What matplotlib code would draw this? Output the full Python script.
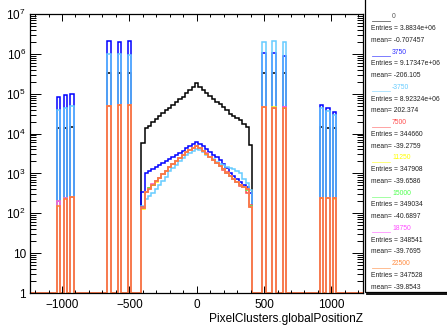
import numpy as np
import matplotlib
matplotlib.use("Agg")
import matplotlib.pyplot as plt
from matplotlib.patches import Rectangle
from matplotlib.lines import Line2D
from matplotlib.ticker import FixedLocator, FixedFormatter, MultipleLocator, LogLocator, NullFormatter

plt.rcParams["font.family"] = ["Liberation Sans Narrow", "Liberation Sans", "DejaVu Sans"]
plt.rcParams["mathtext.fontset"] = "custom"
plt.rcParams["mathtext.rm"] = "Liberation Sans Narrow"

# -----------------------------------------------------------
# Histogram definition (ROOT TH1, 99 bins of 25 mm)
# -----------------------------------------------------------
bin_width = 25.0
z_low, z_high = -1237.5, 1237.5

barrel_z = list(range(-400, 401, 25))
disk_z = [-1025, -975, -925, -650, -575, -500, 500, 575, 650, 925, 975, 1025]

series_names = ["0", "3750", "-3750", "7500", "11250", "15000", "18750", "22500"]
series_colors = ["#000000", "#0000ff", "#66ccff", "#ff4d4d", "#ffff00", "#4dff4d", "#ff4dff", "#ff7f2a"]
label_colors = ["#555555", "#3333ff", "#66ccff", "#ff4d4d", "#ffff00", "#4dff4d", "#ff4dff", "#ff8c40"]
entries = ["3.8834e+06", "9.17347e+06", "8.92324e+06", "344660", "347908", "349034", "348541", "347528"]
means = ["-0.707457", "-206.105", "202.374", "-39.2759", "-39.6586", "-40.6897", "-39.7695", "-39.8543"]

# barrel bins, z = -400 ... 400
barrel_0 = [5750, 13490, 15850, 19050, 23440, 27540, 32360, 38020, 44670, 52480, 61660, 72440,
            85110, 102300, 123000, 147900, 182000, 151400, 125900, 104700, 87100, 74130, 63100,
            53700, 45710, 38900, 31620, 27540, 23990, 21380, 17780, 14450, 5130]
barrel_3750 = [347, 1000, 1148, 1318, 1479, 1660, 1862, 2089, 2344, 2630, 2951, 3311, 3715, 4266,
               4786, 5370, 6026, 5495, 4786, 4074, 3467, 2951, 2512, 2138, 1738, 1349, 1047, 851,
               708, 603, 525, 447, 316]
barrel_m3750 = [148, 224, 269, 331, 417, 525, 661, 832, 1122, 1349, 1660, 1995, 2399, 2818, 3236,
                3631, 4074, 3802, 3388, 2951, 2570, 2239, 1950, 1738, 1585, 1445, 1349, 1259, 1148,
                1047, 708, 562, 380]
barrel_7500 = [140, 340, 420, 520, 640, 770, 960, 1160, 1460, 1720, 2100, 2440, 2900, 3370, 3900,
               4340, 4850, 4380, 3700, 3180, 2610, 2200, 1800, 1530, 1250, 1060, 860, 730, 600,
               495, 450, 330, 160]
barrel_11250 = [130, 350, 410, 530, 620, 780, 950, 1180, 1430, 1750, 2080, 2470, 2870, 3400, 3880,
                4380, 4880, 4350, 3720, 3150, 2640, 2180, 1830, 1500, 1270, 1040, 880, 720, 610,
                505, 460, 400, 145]
barrel_15000 = [138, 345, 425, 515, 635, 770, 960, 1170, 1450, 1730, 2090, 2450, 2890, 3380, 3900,
                4360, 4900, 4370, 3710, 3170, 2620, 2190, 1810, 1520, 1260, 1050, 865, 728, 598,
                500, 455, 395, 150]
barrel_18750 = [132, 348, 415, 528, 628, 775, 952, 1172, 1440, 1742, 2085, 2460, 2880, 3390, 3885,
                4370, 4890, 4360, 3705, 3165, 2625, 2185, 1815, 1510, 1255, 1045, 868, 722, 605,
                498, 452, 398, 143]
barrel_22500 = [135, 347, 417, 525, 631, 776, 955, 1175, 1445, 1738, 2089, 2455, 2884, 3388, 3890,
                4365, 4898, 4365, 3715, 3162, 2630, 2188, 1820, 1514, 1259, 1047, 871, 724, 603,
                501, 457, 398, 141]

# disk bins, order of disk_z
disk_0 = [14000, 14000, 14500, 330000, 340000, 340000, 340000, 340000, 330000, 14500, 14000, 14000]
disk_3750 = [83000, 93000, 98000, 2100000, 2000000, 2050000, 1030000, 1030000, 890000, 52000, 43000, 34000]
disk_m3750 = [40000, 45000, 48000, 1000000, 1000000, 950000, 2000000, 2100000, 2000000, 45000, 37000, 29000]
disk_7500 = [205, 245, 250, 50500, 52000, 51500, 47500, 45000, 45500, 238, 242, 236]
disk_11250 = [198, 238, 258, 49500, 52500, 51000, 47000, 45500, 45000, 242, 238, 234]
disk_15000 = [202, 242, 252, 50000, 51500, 51000, 46500, 45000, 45000, 240, 240, 238]
disk_18750 = [200, 240, 256, 50200, 52200, 51200, 47200, 44800, 45200, 236, 241, 235]
disk_22500 = [150, 230, 250, 50000, 52000, 51000, 47000, 45000, 45000, 240, 240, 235]

barrels = [barrel_0, barrel_3750, barrel_m3750, barrel_7500, barrel_11250, barrel_15000,
           barrel_18750, barrel_22500]
disks = [disk_0, disk_3750, disk_m3750, disk_7500, disk_11250, disk_15000, disk_18750, disk_22500]

edges = np.arange(z_low, z_high + bin_width / 2, bin_width)
centers = edges[:-1] + bin_width / 2


def fill_hist(barrel, disk):
    counts = np.zeros(len(centers))
    for z, c in zip(barrel_z + disk_z, list(barrel) + list(disk)):
        counts[np.argmin(np.abs(centers - z))] = c
    return counts


# -----------------------------------------------------------
# Figure
# -----------------------------------------------------------
W, H = 447, 327
fig = plt.figure(figsize=(W / 100, H / 100), dpi=100)
ax = fig.add_axes([30 / W, 34 / H, 333.4 / W, 279 / H])

for barrel, disk, color in zip(barrels, disks, series_colors):
    counts = fill_hist(barrel, disk)
    # empty bins are drawn on the axis floor, like ROOT does on log scale
    ax.stairs(np.maximum(counts, 1), edges, color=color, lw=1.1)

ax.set_yscale("log")
ax.set_xlim(z_low, z_high)
ax.set_ylim(1, 1e7)

ax.xaxis.set_major_locator(MultipleLocator(500))
ax.xaxis.set_minor_locator(MultipleLocator(100))
ax.yaxis.set_major_locator(FixedLocator([10 ** k for k in range(8)]))
ax.yaxis.set_major_formatter(FixedFormatter(
    ["1", "10"] + [r"$\mathregular{10^{%d}}$" % k for k in range(2, 8)]))
ax.yaxis.set_minor_locator(LogLocator(base=10, subs=np.arange(2, 10), numticks=20))
ax.yaxis.set_minor_formatter(NullFormatter())

ax.tick_params(which="both", direction="in", top=True, right=True, width=0.7, labelsize=8.5)
ax.tick_params(axis="y", which="major", length=8, pad=3)
ax.tick_params(axis="y", which="minor", length=4)
ax.tick_params(axis="x", which="major", length=5, pad=4)
ax.tick_params(axis="x", which="minor", length=2.5)
for sp in ax.spines.values():
    sp.set_linewidth(0.9)

ax.set_xlabel("PixelClusters.globalPositionZ", fontsize=8.6, ha="right")
ax.xaxis.set_label_coords(1.0, -0.072)
ax.xaxis.label.set_va("top")

# -----------------------------------------------------------
# Legend / stats box
# -----------------------------------------------------------
fig.patches.append(Rectangle((365 / W, (H - 292) / H), 0.2, 1.0, transform=fig.transFigure,
                             facecolor="white", edgecolor="black", lw=0.9, clip_on=False))
fig.lines.append(Line2D([367 / W, 1.0], [(H - 294) / H] * 2, transform=fig.transFigure,
                        color="black", lw=1.3))

row0, row_step = 17, 11.74
for k, name in enumerate(series_names):
    y_lab = row0 + row_step * 3 * k
    fig.lines.append(Line2D([372 / W, 390 / W], [(H - y_lab - 4) / H] * 2,
                            transform=fig.transFigure, color=series_colors[k], lw=0.6, alpha=0.6))
    fig.text(392 / W, (H - y_lab) / H, name, color=label_colors[k], fontsize=4.9, va="center")
    fig.text(371 / W, (H - y_lab - row_step) / H, "Entries = " + entries[k],
             color="#222222", fontsize=4.9, va="center")
    fig.text(371 / W, (H - y_lab - 2 * row_step) / H, "mean= " + means[k],
             color="#222222", fontsize=4.9, va="center")

fig.savefig("out.png", dpi=100)
